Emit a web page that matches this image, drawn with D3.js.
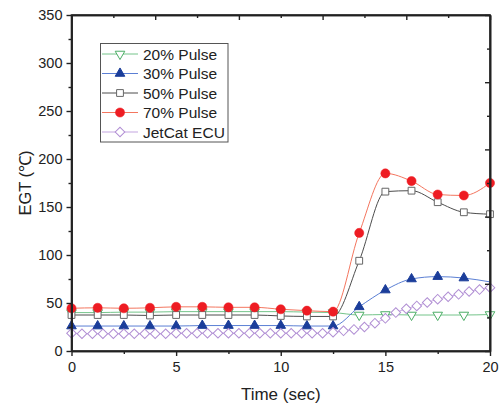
<!DOCTYPE html>
<html>
<head>
<meta charset="utf-8">
<script src="https://cdn.jsdelivr.net/npm/d3@7"></script>
<style>
  html, body { margin: 0; padding: 0; background: #fff; }
  svg { display: block; font-family: "Liberation Sans", Arial, sans-serif; }
</style>
</head>
<body>
<svg id="chart" width="502" height="407"></svg>
<script>
// ---- data ----
const time = [0, 1.25, 2.5, 3.75, 5, 6.25, 7.5, 8.75, 10, 11.25, 12.5, 13.75, 15, 16.25, 17.5, 18.75, 20];
const pulse20 = [40, 40, 40.5, 40.5, 41, 41, 41, 41, 41, 40.5, 40, 37.5, 38, 37.5, 37.5, 37.5, 38];
const pulse30 = [26, 26, 26, 26, 26, 26.5, 26.5, 26.5, 26.5, 26, 26, 46, 63.5, 75, 77.5, 76, 72];
const pulse50 = [37.5, 37.5, 37.5, 37, 37.5, 37.5, 37.5, 37.5, 36.5, 36, 36, 94, 166, 167, 155, 144.5, 142.5];
const pulse70 = [44.5, 45, 44.5, 45, 46, 46, 45.5, 45.5, 43.5, 42, 41, 123, 185, 177, 163, 162, 175];
const timeEcu = [0, 0.5, 1, 1.5, 2, 2.5, 3, 3.5, 4, 4.5, 5, 5.5, 6, 6.5, 7, 7.5, 8, 8.5, 9, 9.5, 10, 10.5, 11, 11.5, 12,
                 12.5, 13, 13.5, 14, 14.5, 15, 15.5, 16, 16.5, 17, 17.5, 18, 18.5, 19, 19.5, 20];
const jetcatEcu = [18.5, 18, 18, 18, 18, 18, 18, 18, 18, 18, 18.5, 18.5, 18.5, 18.5, 18.5, 18.5, 18.5, 18.5, 18.5, 18.5, 18.5, 18.5, 18.5, 18.5, 18.5,
                   19.5, 21, 22.5, 25, 29, 34, 40, 44, 47, 50.5, 54, 56.5, 59, 62, 64, 66];
const seriesNames = ["20% Pulse", "30% Pulse", "50% Pulse", "70% Pulse", "JetCat ECU"];
const yTicks = [0, 50, 100, 150, 200, 250, 300, 350];
const xTicks = [0, 5, 10, 15, 20];

// ---- styles ----
const styles = [
  { line: "#74c48a", stroke: "#4cae66", fill: "#fff", sym: "tdown", size: 40, sw: 1 },
  { line: "#5b7fd4", stroke: "#1b3d9a", fill: "#1b3d9a", sym: "tup", size: 40, sw: 1 },
  { line: "#4d4d4d", stroke: "#666", fill: "#fff", sym: "square", size: 46, sw: 1 },
  { line: "#f4765f", stroke: "#ee1c23", fill: "#ee1c23", sym: "circle", size: 66, sw: 0.5 },
  { line: "#c3a5e0", stroke: "#b18fd4", fill: "#fff", sym: "diamond", size: 46, sw: 1 }
];

const series = [
  { t: time, v: pulse20, markers: time.length },
  { t: time, v: pulse30, markers: time.length - 1 },
  { t: time, v: pulse50, markers: time.length },
  { t: time, v: pulse70, markers: time.length },
  { t: timeEcu, v: jetcatEcu, markers: timeEcu.length }
];

const svg = d3.select("#chart");
const L = 71.5, R = 490, T = 15, B = 351;
const x = d3.scaleLinear().domain([0, 20]).range([L, R]);
const y = d3.scaleLinear().domain([0, 350]).range([B, T]);
const x2 = d3.scaleLinear().domain([0, 20]).range([L, R]);
const y2 = d3.scaleLinear().domain([0, 350]).range([B, T]);

function symPath(s) {
  if (s.sym === "circle") return d3.symbol(d3.symbolCircle, s.size)();
  if (s.sym === "square") return d3.symbol(d3.symbolSquare, s.size)();
  if (s.sym === "diamond") return d3.symbol(d3.symbolSquare, s.size)();
  return d3.symbol(d3.symbolTriangle, s.size)();
}
function symRot(s) {
  if (s.sym === "tdown") return " rotate(180)";
  if (s.sym === "diamond") return " rotate(45)";
  return "";
}

// ---- series ----
const line = d3.line().x(d => x(d[0])).y(d => y(d[1])).curve(d3.curveMonotoneX);
series.forEach((s, i) => {
  const st = styles[i];
  const pts = s.t.map((t, j) => [t, s.v[j]]);
  const g = svg.append("g");
  g.append("path").attr("d", line(pts)).attr("fill", "none")
    .attr("stroke", st.line).attr("stroke-width", 1);
  g.selectAll("path.m").data(pts.slice(0, s.markers)).join("path").attr("class", "m")
    .attr("d", symPath(st))
    .attr("transform", d => `translate(${x(d[0])},${y(d[1])})` + symRot(st))
    .attr("fill", st.fill).attr("stroke", st.stroke).attr("stroke-width", st.sw);
});

// ---- axes ----
const axisG = svg.append("g");
// left
const left = axisG.append("g").attr("transform", `translate(${L},0)`)
  .call(d3.axisLeft(y).tickValues(yTicks).tickSize(5).tickPadding(4).tickSizeOuter(0));
axisG.append("g").attr("transform", `translate(${L},0)`)
  .call(d3.axisLeft(y).tickValues(d3.range(25, 350, 50)).tickSize(3).tickFormat("").tickSizeOuter(0));
// bottom
axisG.append("g").attr("transform", `translate(0,${B})`)
  .call(d3.axisBottom(x).tickValues(xTicks).tickSize(5).tickPadding(6).tickSizeOuter(0));
axisG.append("g").attr("transform", `translate(0,${B})`)
  .call(d3.axisBottom(x).tickValues([2.5, 7.5, 12.5, 17.5]).tickSize(3).tickFormat("").tickSizeOuter(0));
// top (inward)
axisG.append("g").attr("transform", `translate(0,${T})`)
  .call(d3.axisBottom(x2).tickValues([0, 4, 8, 12, 16, 20]).tickSize(5).tickFormat("").tickSizeOuter(0));
axisG.append("g").attr("transform", `translate(0,${T})`)
  .call(d3.axisBottom(x2).tickValues([2, 6, 10, 14, 18]).tickSize(3).tickFormat("").tickSizeOuter(0));
// right (inward)
axisG.append("g").attr("transform", `translate(${R},0)`)
  .call(d3.axisLeft(y2).tickValues([0, 70, 140, 210, 280, 350]).tickSize(5).tickFormat("").tickSizeOuter(0));
axisG.append("g").attr("transform", `translate(${R},0)`)
  .call(d3.axisLeft(y2).tickValues([35, 105, 175, 245, 315]).tickSize(3).tickFormat("").tickSizeOuter(0));

axisG.selectAll(".domain").attr("stroke", "#222").attr("stroke-width", 1.6);
axisG.selectAll(".tick line").attr("stroke", "#222").attr("stroke-width", 1.4);
axisG.selectAll(".tick text").attr("font-size", 14.5).attr("fill", "#222")
  .attr("font-family", "'Liberation Sans', Arial, sans-serif");

// frame
svg.append("rect").attr("x", L).attr("y", T).attr("width", R - L).attr("height", B - T)
  .attr("fill", "none").attr("stroke", "#222").attr("stroke-width", 1.6);

// axis titles
svg.append("text").attr("x", (L + R) / 2).attr("y", 400).attr("text-anchor", "middle")
  .attr("font-size", 17).attr("fill", "#222").text("Time (sec)");
svg.append("text").attr("transform", `translate(31,${(T + B) / 2}) rotate(-90)`)
  .attr("text-anchor", "middle").attr("font-size", 16.5).attr("fill", "#222").text("EGT (℃)");

// ---- legend ----
const lg = svg.append("g");
lg.append("rect").attr("x", 100.5).attr("y", 43.5).attr("width", 127.5).attr("height", 98.5)
  .attr("fill", "#fff").attr("stroke", "#555").attr("stroke-width", 1);
seriesNames.forEach((name, i) => {
  const st = styles[i];
  const cy = 54 + i * 19.5;
  lg.append("line").attr("x1", 102).attr("x2", 138).attr("y1", cy).attr("y2", cy)
    .attr("stroke", st.line).attr("stroke-width", 1);
  lg.append("path").attr("d", symPath(st))
    .attr("transform", `translate(120,${cy})` + symRot(st))
    .attr("fill", st.fill).attr("stroke", st.stroke).attr("stroke-width", st.sw);
  lg.append("text").attr("x", 143).attr("y", cy).attr("dy", "0.36em")
    .attr("font-size", 15.5).attr("fill", "#222").text(name);
});
</script>
</body>
</html>
